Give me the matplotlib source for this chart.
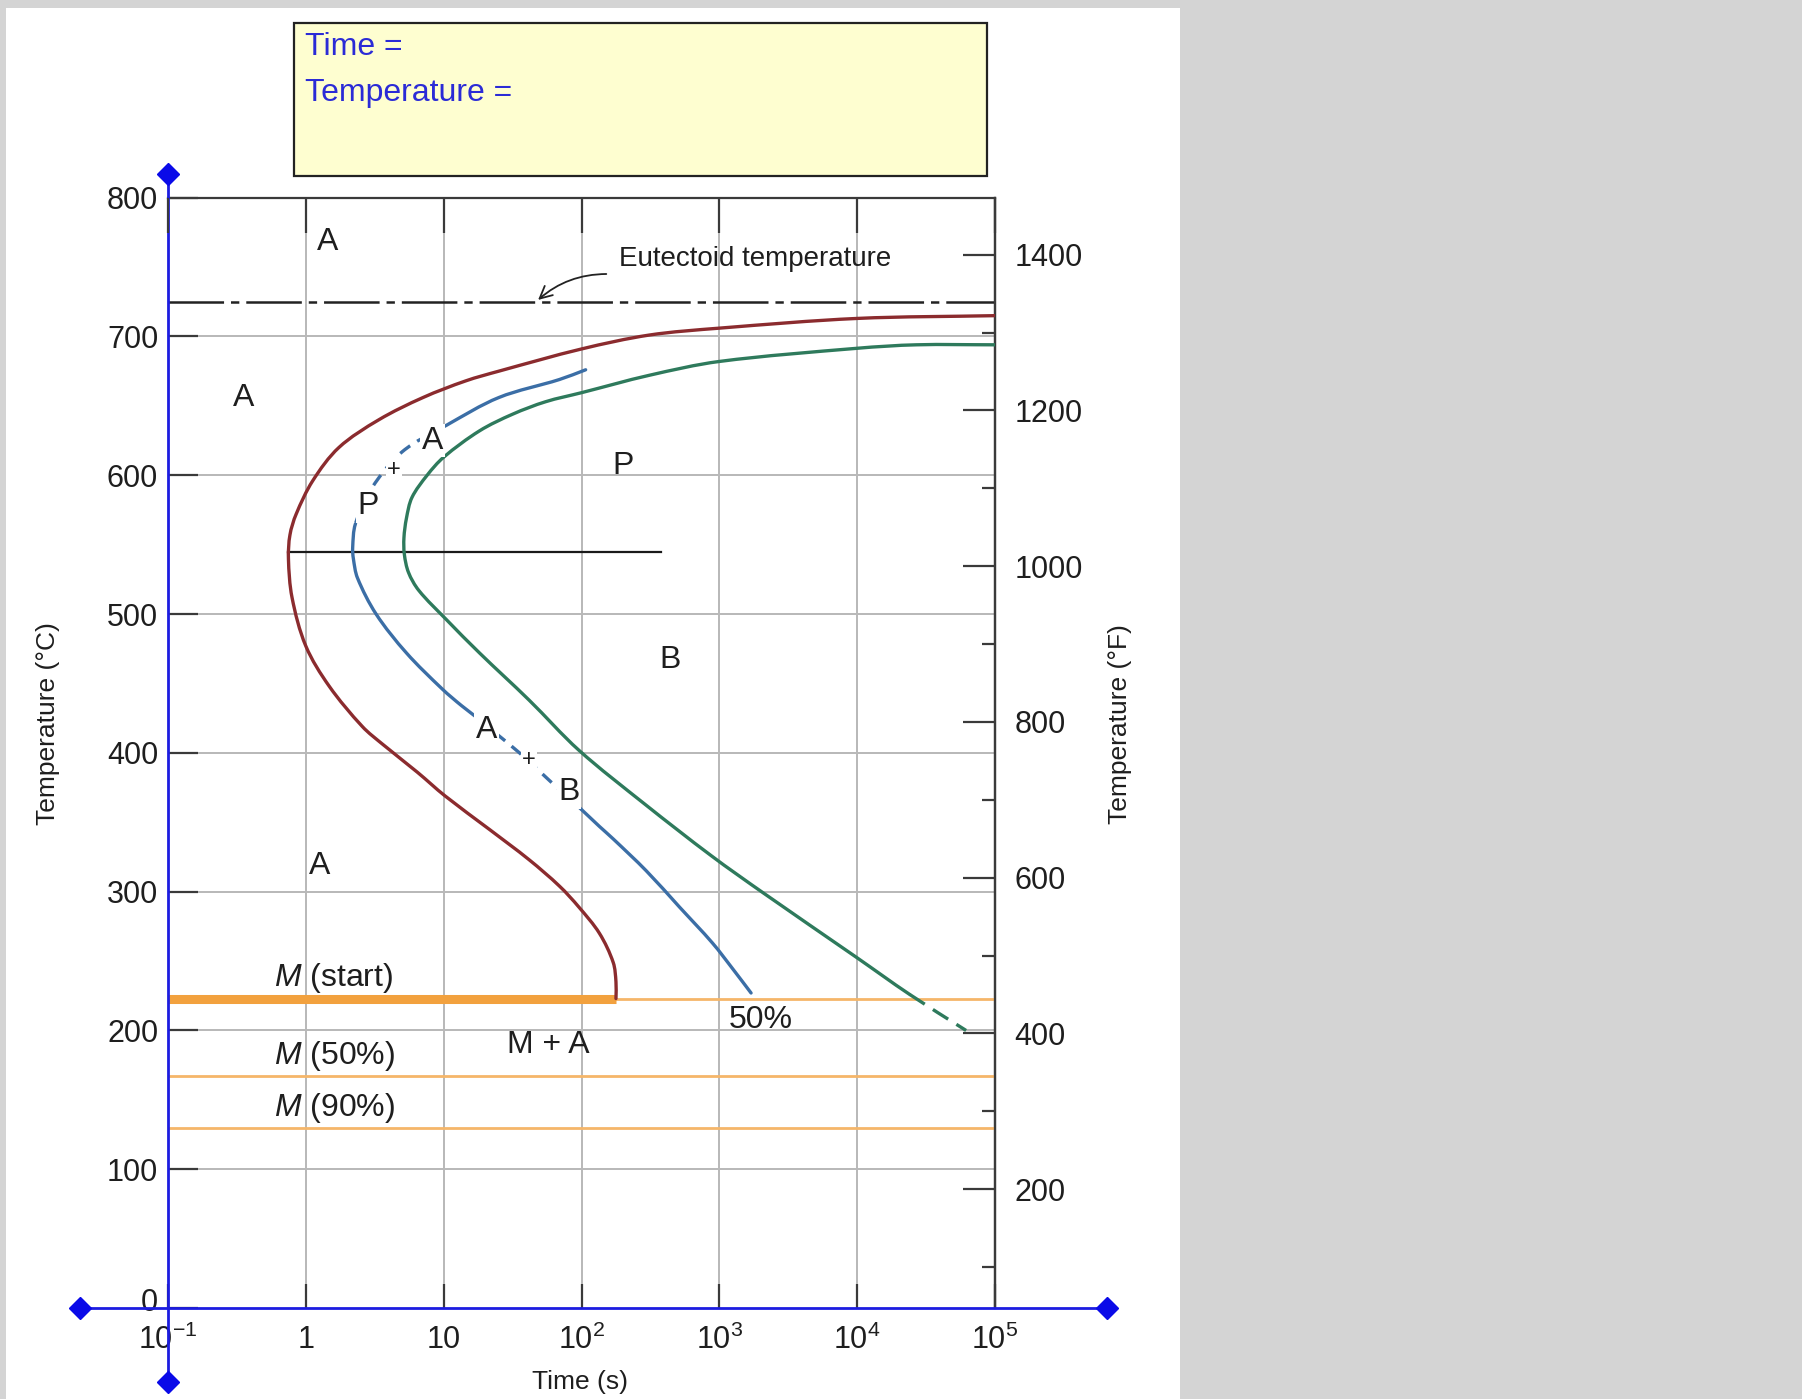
import numpy as np
import matplotlib
matplotlib.use("Agg")
import matplotlib.pyplot as plt
from matplotlib.patches import Rectangle, PathPatch
from matplotlib.path import Path
from matplotlib.lines import Line2D
from matplotlib.ticker import NullLocator

plt.rcParams['font.family'] = ['Liberation Sans', 'DejaVu Sans']
plt.rcParams['mathtext.fontset'] = 'custom'
plt.rcParams['mathtext.rm'] = 'Liberation Sans'
plt.rcParams['mathtext.it'] = 'Liberation Sans:italic'
plt.rcParams['mathtext.bf'] = 'Liberation Sans:bold'
plt.rcParams['lines.scale_dashes'] = False

# ---------------- data ----------------
x_ticks = [0.1, 1, 10, 100, 1000, 1e4, 1e5]
x_ticklabels = ['10$^{-1}$', '1', '10', '10$^{2}$', '10$^{3}$', '10$^{4}$', '10$^{5}$']
y_ticks_c = [0, 100, 200, 300, 400, 500, 600, 700, 800]
y_ticks_f = [200, 400, 600, 800, 1000, 1200, 1400]
y_minor_f = [100, 300, 500, 700, 900, 1100, 1300]
grid_x = [1, 10, 100, 1000, 1e4]
grid_y = [100, 200, 300, 400, 500, 600, 700]

eutectoid_T = 725
Ms_T, M50_T, M90_T = 223, 167, 130
nose_T = 545
nose_line_end_logt = 2.58

# transformation start curve (log10 t [s], T [C])
start_logt = [5.0, 4.0, 3.0, 2.49, 2.0, 1.4, 1.16, 0.85, 0.53, 0.24, 0.05, -0.07, -0.115,
              -0.126, -0.1, 0.0, 0.17, 0.41, 0.56, 0.81, 1.01, 1.33, 1.62, 1.84, 1.98,
              2.13, 2.23, 2.25, 2.25]
start_T = [715, 713, 706, 701, 691, 675, 668, 656, 640, 620, 596, 572, 557,
           540, 512, 477, 448, 419, 406, 386, 369, 345, 323, 304, 289,
           270, 249, 235, 223]

# 50 % curve
half_logt = [2.03, 1.84, 1.40, 1.02, 0.70, 0.48, 0.36, 0.34, 0.345, 0.375, 0.51, 0.73, 0.99,
             1.13, 1.26, 1.38, 1.55, 1.79, 1.98, 2.13, 2.23, 2.47, 2.71, 2.95, 3.10, 3.23]
half_T = [676, 669, 656, 636, 617, 591, 565, 548, 540, 526, 500, 472, 446,
          434, 424, 414, 400, 378, 361, 347, 338, 315, 289, 263, 244, 227]
half_dashed = [(3, 6), (14, 18)]

# finish curve
finish_logt = [5.0, 4.43, 4.0, 3.0, 2.49, 2.0, 1.74, 1.5, 1.26, 1.0, 0.88, 0.77, 0.73,
               0.712, 0.715, 0.745, 0.82, 1.02, 1.26, 1.62, 1.98, 2.46, 2.94, 3.32, 3.99,
               4.38, 4.79]
finish_T = [694, 694, 691.5, 682, 672, 659.5, 653, 644, 632, 613, 600, 584, 569,
            555, 543, 530, 517, 496, 472, 438, 402, 363, 326, 299, 253,
            226, 200]
finish_dash_from = 25

# labels: (text, log10 t, T)
region_labels = [('A', 0.157, 770), ('A', -0.45, 658), ('P', 2.30, 609),
                 ('B', 2.64, 469), ('A', 0.10, 321)]
online_labels = [('P', 0.45, 580), ('+', 0.64, 606), ('A', 0.92, 627),
                 ('A', 1.31, 419), ('+', 1.62, 397), ('B', 1.91, 374)]
m_labels = [('$M$ (start)', -0.234, 240), ('$M$ (50%)', -0.234, 184), ('$M$ (90%)', -0.234, 146)]
other_labels = [('M + A', 1.76, 192), ('50%', 3.3, 209.5)]

# Fahrenheit scale as drawn (C = F_A + F_B * F)
F_A, F_B = -26.6, 0.5611

# ---------------- colours ----------------
RED = '#8b2b2e'
BLUE = '#3b6ea6'
GREEN = '#2e7a5c'
ORANGE = '#f2a13e'
ORANGE_THIN = '#f5b669'
GRID = '#b8b8b8'
DARK = '#3a3a3a'
AXBLUE = '#1c1ce0'
TXT = '#1e1e1e'

# smoothing aspect (pixels per decade / per degree) for drawing curves
PXX, PXY = 137.8, 1.3874


def smooth_path(logt, T, i0=0, i1=None):
    P = np.column_stack([np.asarray(logt, float) * PXX, np.asarray(T, float) * PXY])
    n = len(P)
    d = np.hypot(*np.diff(P, axis=0).T)
    M = np.zeros_like(P)
    for i in range(n):
        if i == 0:
            M[i] = (P[1] - P[0]) / d[0]
        elif i == n - 1:
            M[i] = (P[-1] - P[-2]) / d[-1]
        else:
            M[i] = (P[i + 1] - P[i - 1]) / (d[i - 1] + d[i])
    if i1 is None:
        i1 = n - 1
    verts = [P[i0]]
    codes = [Path.MOVETO]
    for i in range(i0, i1):
        verts += [P[i] + M[i] * d[i] / 3, P[i + 1] - M[i + 1] * d[i] / 3, P[i + 1]]
        codes += [Path.CURVE4] * 3
    V = np.array(verts)
    V = np.column_stack([10 ** (V[:, 0] / PXX), V[:, 1] / PXY])
    return Path(V, codes)


def draw_curve(ax, logt, T, color, i0=0, i1=None, dashes=None):
    kw = dict(facecolor='none', edgecolor=color, lw=2.4, zorder=4, capstyle='round')
    if dashes is not None:
        kw['linestyle'] = (0, dashes)
        kw['capstyle'] = 'butt'
    ax.add_patch(PathPatch(smooth_path(logt, T, i0, i1), **kw))


fig = plt.figure(figsize=(18.02, 13.99), dpi=100, facecolor='#d4d4d4')
fig.add_artist(Rectangle((0.0033, 0.0), 0.6515, 0.9943, transform=fig.transFigure,
                         facecolor='white', edgecolor='none', zorder=-10))

ax = fig.add_axes([0.0932, 0.0650, 0.4590, 0.7937])
ax.set_xscale('log')
ax.set_xlim(0.1, 1e5)
ax.set_ylim(0, 800)
ax.set_autoscale_on(False)
ax.set_facecolor('none')
ax.xaxis.set_minor_locator(NullLocator())

for gx in grid_x:
    ax.axvline(gx, color=GRID, lw=1.4, zorder=0)
for gy in grid_y:
    ax.axhline(gy, color=GRID, lw=1.4, zorder=0)

# eutectoid
ax.axhline(eutectoid_T, color='#222222', lw=1.8, dashes=(40, 5, 6, 5), zorder=2)
ax.annotate('', xy=(10 ** 1.67, eutectoid_T), xytext=(10 ** 2.2, 745),
            arrowprops=dict(arrowstyle='->', connectionstyle='arc3,rad=0.2',
                            lw=1.3, color='#222222', mutation_scale=22), zorder=3)
ax.annotate('Eutectoid temperature', xy=(10 ** 3.26, 758), xytext=(0, -2.2),
            textcoords='offset points', fontsize=20, color=TXT, ha='center', va='center')

# martensite lines
start_t = 10 ** np.array(start_logt)
ax.plot([0.1, 1e5], [Ms_T, Ms_T], color=ORANGE_THIN, lw=2.0, zorder=2)
ax.plot([0.1, start_t[-1]], [Ms_T, Ms_T], color=ORANGE, lw=6.5, zorder=3,
        solid_capstyle='butt', clip_on=False)
ax.plot([0.1, 1e5], [M50_T, M50_T], color=ORANGE_THIN, lw=2.0, zorder=2)
ax.plot([0.1, 1e5], [M90_T, M90_T], color=ORANGE_THIN, lw=2.0, zorder=2)

# nose line
ax.plot([start_t[np.argmin(start_logt)], 10 ** nose_line_end_logt], [nose_T, nose_T],
        color='#1a1a1a', lw=1.6, zorder=3)

# curves
draw_curve(ax, start_logt, start_T, RED)

bounds = [0]
for a, b in half_dashed:
    bounds += [a, b]
bounds.append(len(half_logt) - 1)
for i in range(len(bounds) - 1):
    s, e = bounds[i], bounds[i + 1]
    draw_curve(ax, half_logt, half_T, BLUE, s, e, dashes=(9, 6) if i % 2 == 1 else None)

draw_curve(ax, finish_logt, finish_T, GREEN, 0, finish_dash_from)
draw_curve(ax, finish_logt, finish_T, GREEN, finish_dash_from, None, dashes=(13, 7))

# labels
def put(s, lx, ly, fs=23, ha='center', bbox=None, z=5):
    ax.annotate(s, xy=(10 ** lx, ly), xytext=(0, -2.2), textcoords='offset points',
                fontsize=fs, color=TXT, ha=ha, va='center', zorder=z, bbox=bbox)


for s, lx, ly in region_labels:
    put(s, lx, ly)
for s, lx, ly in online_labels:
    put(s, lx, ly, fs=17 if s == '+' else 23, z=6,
        bbox=dict(boxstyle='square,pad=0.05', fc='white', ec='none'))
for s, lx, ly in m_labels:
    put(s, lx, ly, ha='left')
for s, lx, ly in other_labels:
    put(s, lx, ly)

# axes / ticks
ax.set_xticks(x_ticks, x_ticklabels)
ax.set_yticks(y_ticks_c, ['' if v == 0 else str(v) for v in y_ticks_c])
ax.annotate('0', xy=(0, 6.5), xycoords=('axes fraction', 'data'), xytext=(-7, 0),
            textcoords='offset points', fontsize=22, color=TXT, ha='right',
            va='center_baseline', annotation_clip=False)
ax.tick_params(axis='x', which='major', direction='in', length=17, width=1.6,
               color=DARK, labelsize=22, labelcolor=TXT, pad=12, top=False)
ax.tick_params(axis='y', which='major', direction='in', length=21.5, width=1.6,
               color=DARK, labelsize=22, labelcolor=TXT, pad=7, right=False)
for sp in ['top', 'right']:
    ax.spines[sp].set_color(DARK)
    ax.spines[sp].set_linewidth(1.6)
for sp in ['left', 'bottom']:
    ax.spines[sp].set_visible(False)

ax_top = ax.twiny()
ax_top.set_xscale('log')
ax_top.set_xlim(ax.get_xlim())
ax_top.set_xticks(x_ticks, [''] * len(x_ticks))
ax_top.xaxis.set_minor_locator(NullLocator())
ax_top.tick_params(axis='x', which='major', direction='in', length=25, width=1.6,
                   color=DARK, top=True, bottom=False, labeltop=False)
for sp in ax_top.spines.values():
    sp.set_visible(False)


def c2f(c):
    return (np.asarray(c, dtype=float) - F_A) / F_B


def f2c(f):
    return F_A + F_B * np.asarray(f, dtype=float)


sec = ax.secondary_yaxis('right', functions=(c2f, f2c))
sec.set_yticks(y_ticks_f, [str(v) for v in y_ticks_f])
sec.set_yticks(y_minor_f, minor=True)
sec.tick_params(axis='y', which='major', direction='in', length=23, width=1.6,
                color=DARK, labelsize=22, labelcolor=TXT, pad=14)
sec.tick_params(axis='y', which='minor', direction='in', length=9.5, width=1.6, color=DARK)
sec.spines['right'].set_color(DARK)
sec.spines['right'].set_linewidth(1.6)

# blue overlay axes with diamond ends
ax.add_line(Line2D([0, 0], [-0.0667, 1.021], transform=ax.transAxes, color=AXBLUE,
                   lw=2.0, clip_on=False, zorder=10))
ax.add_line(Line2D([-0.106, 1.135], [0, 0], transform=ax.transAxes, color=AXBLUE,
                   lw=2.0, clip_on=False, zorder=10))
ax.add_line(Line2D([0, 0, -0.106, 1.135], [-0.0667, 1.021, 0, 0], transform=ax.transAxes,
                   linestyle='none', marker='D', markersize=11, color='#0a0ae8',
                   clip_on=False, zorder=11))

# axis titles
fig.text(0.0266, 0.4825, 'Temperature (°C)', rotation=90, fontsize=19, color=TXT,
         ha='center', va='center')
fig.text(0.6215, 0.4825, 'Temperature (°F)', rotation=90, fontsize=19, color=TXT,
         ha='center', va='center')
fig.text(0.322, 0.012, 'Time (s)', fontsize=19, color=TXT, ha='center', va='center')

# info box
fig.add_artist(Rectangle((0.1632, 0.8742), 0.3846, 0.1094, transform=fig.transFigure,
                         facecolor='#fefed0', edgecolor='#222222', lw=1.6, zorder=5))
fig.text(0.169, 0.9663, 'Time =', fontsize=23, color='#2b2bd6', ha='left', va='center', zorder=6)
fig.text(0.169, 0.9335, 'Temperature =', fontsize=23, color='#2b2bd6', ha='left', va='center', zorder=6)

fig.savefig('out.png', dpi=100, facecolor=fig.get_facecolor())
